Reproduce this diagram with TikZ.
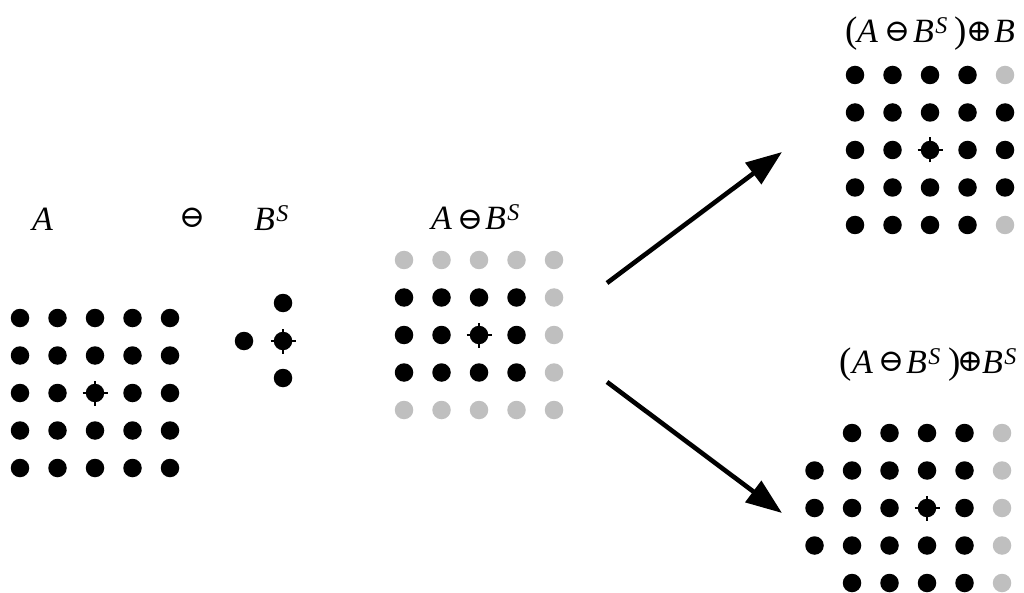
\documentclass[tikz,border=0pt]{standalone}
\usepackage{fontspec}
\setmainfont{Liberation Serif}
\newfontfamily\opfont{DejaVu Serif}
\usetikzlibrary{arrows.meta}
\definecolor{dotgray}{RGB}{191,191,191}
\newcommand\supS{\hspace{1.5pt}\raisebox{9pt}{\fontsize{24}{24}\selectfont\itshape S}}
\tikzset{
  dot/.style={circle,fill=black,inner sep=0pt,minimum size=18.5pt},
  gdot/.style={circle,fill=dotgray,inner sep=0pt,minimum size=18.5pt},
  crossline/.style={line width=2pt},
  lbl/.style={anchor=base west,inner sep=0pt,font=\fontsize{34}{38}\selectfont\itshape},
  par/.style={anchor=base west,inner sep=0pt,font=\fontsize{37}{40}\selectfont},
  op/.style={inner sep=0pt,font=\opfont\fontsize{31}{31}\selectfont},
  bigarrow/.style={line width=4.6pt,-{Triangle[length=36pt,width=26pt]}}
}
\newcommand\crossat[1]{%
  \draw[crossline] ([xshift=-12.5pt]#1.center) -- ([xshift=12.5pt]#1.center);
  \draw[crossline] ([yshift=-12.5pt]#1.center) -- ([yshift=12.5pt]#1.center);}
\begin{document}
\begin{tikzpicture}[x=1pt,y=-1pt]
\useasboundingbox (0,0) rectangle (1024,593);
% grid A
\foreach \i in {0,...,4}{\foreach \j in {0,...,4}{
  \node[dot] (a-\i-\j) at (20+37.5*\i,318+37.5*\j) {};}}
\crossat{a-2-2}
% B^S
\node[dot] (b-t) at (283,303) {};
\node[dot] (b-l) at (244,341) {};
\node[dot] (b-c) at (283,341) {};
\node[dot] (b-b) at (283,378) {};
\crossat{b-c}
% erosion
\foreach \i in {0,...,4}{\foreach \j in {0,...,4}{
  \pgfmathtruncatemacro\isg{(\j==0)||(\j==4)||(\i==4)}
  \ifnum\isg=1
    \node[gdot] (e-\i-\j) at (404+37.5*\i,260+37.5*\j) {};
  \else
    \node[dot] (e-\i-\j) at (404+37.5*\i,260+37.5*\j) {};
  \fi}}
\crossat{e-2-2}
% dilation by B
\foreach \i in {0,...,4}{\foreach \j in {0,...,4}{
  \pgfmathtruncatemacro\isg{(\i==4)&&((\j==0)||(\j==4))}
  \ifnum\isg=1
    \node[gdot] (t-\i-\j) at (855+37.5*\i,75+37.5*\j) {};
  \else
    \node[dot] (t-\i-\j) at (855+37.5*\i,75+37.5*\j) {};
  \fi}}
\crossat{t-2-2}
% dilation by B^S
\foreach \i in {0,...,5}{\foreach \j in {0,...,4}{
  \pgfmathtruncatemacro\isnone{(\i==0)&&((\j==0)||(\j==4))}
  \ifnum\isnone=0
    \ifnum\i=5
      \node[gdot] (d-\i-\j) at (814.5+37.5*\i,433+37.5*\j) {};
    \else
      \node[dot] (d-\i-\j) at (814.5+37.5*\i,433+37.5*\j) {};
    \fi
  \fi}}
\crossat{d-3-2}
% labels: left
\node[lbl] (la) at (32,231) {A};
\node[op] (lop) at (192,218) {⊖};
\node[lbl] (lb) at (254,231) {B\supS};
% middle
\node[lbl] (ma) at (431,230) {A};
\node[op] (mop) at (470,220) {⊖};
\node[lbl] (mb) at (485,230) {B\supS};
% top right
\node[par] (tlp) at (845,43) {(};
\node[lbl] (ta) at (857,43) {A};
\node[op] (top) at (897,32) {⊖};
\node[lbl] (tb) at (913,43) {B\supS};
\node[par] (trp) at (954,43) {)};
\node[op] (tpl) at (979,32) {⊕};
\node[lbl] (tb2) at (994,43) {B};
% bottom right
\node[par] (blp) at (839,373) {(};
\node[lbl] (ba) at (852,373) {A};
\node[op] (bop) at (891,362) {⊖};
\node[lbl] (bb) at (906,373) {B\supS};
\node[par] (brp) at (948,373) {)};
\node[op] (bpl) at (970,362) {⊕};
\node[lbl] (bb2) at (982,373) {B\supS};
% arrows
\coordinate (u1) at (607,283);
\coordinate (u2) at (782,152);
\coordinate (d1) at (607,382);
\coordinate (d2) at (782,513);
\draw[bigarrow] (u1) -- (u2);
\draw[bigarrow] (d1) -- (d2);
\end{tikzpicture}
\end{document}
